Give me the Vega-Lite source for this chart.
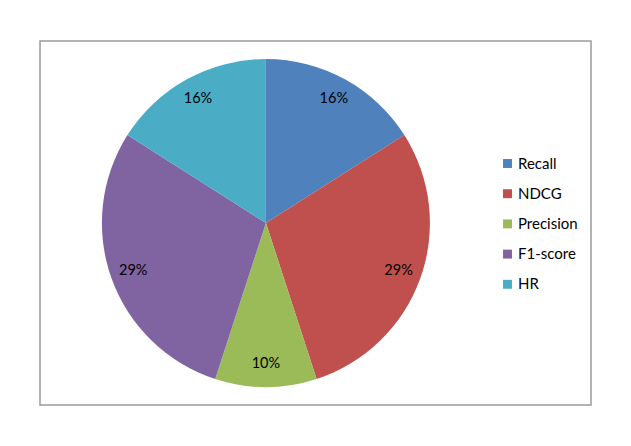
{
  "$schema": "https://vega.github.io/schema/vega-lite/v6.json",
  "width": 551,
  "height": 364,
  "padding": {"left": 40, "top": 41, "right": 40, "bottom": 41},
  "autosize": {"type": "none"},
  "background": "white",
  "view": {"stroke": "#9a9a9a", "strokeWidth": 1.5, "fill": "white"},
  "config": {
    "view": {"stroke": "#9a9a9a", "strokeWidth": 1.5},
    "font": "Lato"
  },
  "data": {
    "values": [
      {"metric": "Recall", "share": 0.16, "idx": 1},
      {"metric": "NDCG", "share": 0.29, "idx": 2},
      {"metric": "Precision", "share": 0.10, "idx": 3},
      {"metric": "F1-score", "share": 0.29, "idx": 4},
      {"metric": "HR", "share": 0.16, "idx": 5}
    ]
  },
  "encoding": {
    "theta": {"field": "share", "type": "quantitative", "stack": true},
    "order": {"field": "idx", "type": "quantitative"}
  },
  "layer": [
    {
      "mark": {"type": "arc", "outerRadius": 164, "x": {"expr": "width*0.41"}, "y": {"expr": "height/2"}},
      "encoding": {
        "color": {
          "field": "metric",
          "type": "nominal",
          "scale": {
            "domain": ["Recall", "NDCG", "Precision", "F1-score", "HR"],
            "range": ["#4F81BD", "#C0504D", "#9BBB59", "#8064A2", "#4BACC6"]
          },
          "legend": {
            "title": null,
            "orient": "none",
            "legendX": 460,
            "legendY": 115,
            "symbolType": "square",
            "symbolSize": 80,
            "symbolStrokeWidth": 0,
            "labelFont": "Lato",
            "labelFontSize": 15,
            "labelColor": "#000000",
            "labelOffset": 3,
            "rowPadding": 14.2
          }
        }
      }
    },
    {
      "mark": {"type": "text", "radius": 141, "x": {"expr": "width*0.41"}, "y": {"expr": "height/2"}, "fontSize": 14.5, "font": "Lato", "color": "#000000"},
      "encoding": {
        "text": {"field": "share", "type": "quantitative", "format": ".0%"}
      }
    }
  ]
}
